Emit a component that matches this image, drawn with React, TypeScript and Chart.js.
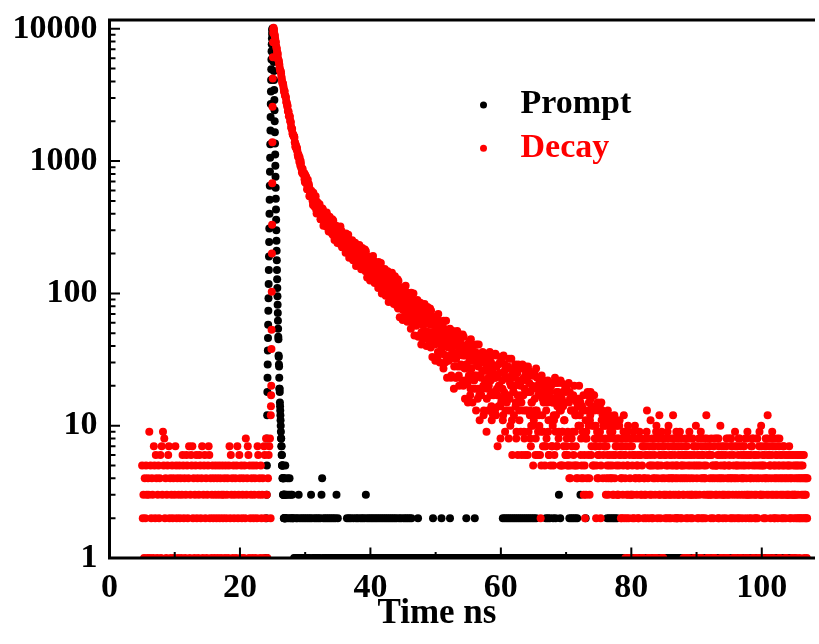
import { useEffect, useRef } from 'react';
import { Chart, registerables } from 'chart.js';

Chart.register(...registerables);

// ---------- labels, ticks ----------
const seriesLabels = ['Prompt', 'Decay'];
const seriesColors = ['#000000', '#ff0000'];
const xTitle = 'Time ns';
const xMin = 0;
const xMax = 108.16;
const yMin = 1;
const yMax = 11650;
const xMajorTicks = [0, 20, 40, 60, 80, 100];
const xMinorTicks = [10, 30, 50, 70, 90];
const yMajorTicks = [1, 10, 100, 1000, 10000];
const yMinorTicks = [
  2, 3, 4, 5, 6, 7, 8, 9,
  20, 30, 40, 50, 60, 70, 80, 90,
  200, 300, 400, 500, 600, 700, 800, 900,
  2000, 3000, 4000, 5000, 6000, 7000, 8000, 9000,
];

// ---------- Decay (red) : counts per time channel ----------
// pre-pulse background, channels 5.0 .. 24.7 ns, 0.1 ns apart
const decayPreStart = 5.0;
const decayPreStep = 0.1;
const decayPreCounts = [
  5, 2, 3, 1, 4, 2, 5, 3, 1, 4,
  3, 9, 1, 5, 2, 4, 3, 1, 7, 5,
  2, 6, 4, 1, 3, 5, 2, 4, 6, 1,
  7, 3, 9, 5, 8, 2, 4, 1, 3, 5,
  6, 7, 2, 4, 1, 3, 5, 2, 4, 1,
  3, 7, 5, 2, 4, 1, 3, 5, 2, 4,
  1, 3, 6, 5, 2, 4, 1, 3, 6, 5,
  2, 4, 7, 1, 3, 6, 5, 7, 2, 4,
  1, 3, 5, 6, 2, 4, 1, 3, 6, 5,
  2, 4, 7, 1, 3, 5, 6, 2, 4, 1,
  3, 5, 7, 6, 2, 4, 1, 3, 5, 2,
  4, 1, 3, 5, 2, 4, 1, 3, 5, 2,
  4, 1, 3, 5, 2, 3, 4, 1, 5, 2,
  3, 4, 1, 5, 7, 2, 6, 3, 4, 1,
  5, 2, 3, 4, 1, 5, 7, 2, 3, 6,
  4, 1, 5, 2, 3, 4, 1, 5, 2, 8,
  3, 4, 7, 6, 1, 5, 2, 3, 4, 1,
  5, 2, 3, 4, 1, 5, 2, 7, 6, 3,
  4, 1, 5, 2, 3, 4, 1, 7, 6, 2,
  8, 3, 1, 4, 6, 7, 8, 2,
];
// rising edge, 24.725 .. 25.175 ns, 0.025 ns apart
const decayRiseStart = 24.725;
const decayRiseStep = 0.025;
const decayRiseCounts = [
  12, 14, 17, 20, 38, 53, 103, 200, 330, 680,
  1390, 2570, 4200, 6100, 7900, 9300, 9900, 10200, 9900,
];
// decay and tail, channels 25.2, 25.3 .. 107.0 ns
const decayMainStart = 25.2;
const decayMainStep = 0.1;
const decayMainCounts = [
  9800, 8960, 8400, 7900, 7200, 6610, 6350, 5810,
  5520, 5030, 4800, 4620, 4210, 3890, 3820, 3550, 3410, 3140,
  3080, 2800, 2700, 2620, 2370, 2180, 2200, 2010, 1950, 1770,
  1750, 1590, 1560, 1540, 1390, 1290, 1320, 1220, 1190, 1080,
  1100, 990, 990, 1000, 896, 820, 875, 810, 800, 730,
  787, 685, 694, 612, 723, 619, 646, 554, 594, 535,
  538, 577, 466, 529, 511, 460, 543, 429, 483, 448,
  410, 453, 472, 401, 364, 432, 404, 430, 325, 391,
  382, 361, 322, 408, 328, 375, 293, 350, 365, 310,
  344, 284, 319, 355, 293, 253, 328, 290, 307, 262,
  319, 263, 279, 237, 320, 260, 286, 233, 267, 234,
  242, 276, 203, 254, 246, 216, 278, 203, 245, 224,
  200, 234, 252, 203, 179, 232, 213, 236, 161, 211,
  206, 194, 167, 232, 175, 211, 152, 197, 209, 169,
  196, 152, 180, 208, 162, 132, 190, 162, 176, 142,
  187, 146, 160, 128, 192, 147, 168, 128, 156, 131,
  138, 166, 110, 150, 144, 122, 170, 113, 146, 130,
  111, 139, 153, 116, 98, 139, 126, 143, 86, 126,
  122, 113, 93, 143, 99, 127, 83, 117, 127, 97,
  113, 80, 102, 124, 89, 66, 111, 90, 101, 76,
  109, 78, 88, 65, 114, 81, 97, 68, 88, 70,
  75, 95, 54, 84, 80, 64, 100, 58, 82, 72,
  57, 78, 89, 62, 48, 79, 69, 82, 41, 70,
  68, 61, 46, 83, 52, 73, 40, 65, 73, 51,
  66, 42, 58, 74, 49, 33, 65, 51, 59, 41,
  66, 43, 51, 33, 70, 45, 57, 35, 51, 39,
  42, 57, 27, 49, 47, 34, 62, 31, 49, 41,
  31, 46, 54, 34, 24, 48, 41, 50, 19, 41,
  40, 34, 23, 52, 28, 44, 20, 39, 45, 29,
  40, 22, 34, 47, 28, 16, 40, 29, 36, 21,
  41, 24, 31, 17, 45, 27, 35, 19, 31, 22,
  24, 36, 13, 31, 29, 19, 41, 17, 31, 24,
  17, 30, 36, 20, 13, 31, 26, 34, 9, 27,
  26, 23, 13, 36, 17, 30, 11, 26, 12, 18,
  28, 13, 23, 34, 19, 7, 29, 20, 25, 14,
  30, 16, 22, 11, 34, 18, 26, 13, 23, 15,
  17, 28, 8, 23, 21, 13, 32, 11, 24, 18,
  12, 23, 29, 15, 9, 25, 6, 27, 13, 21,
  20, 17, 6, 29, 13, 23, 8, 6, 25, 13,
  22, 6, 18, 26, 13, 8, 7, 15, 20, 10,
  24, 12, 16, 6, 27, 13, 20, 9, 17, 10,
  6, 2, 5, 17, 16, 9, 22, 7, 18, 7,
  8, 17, 22, 11, 6, 18, 5, 20, 7, 15,
  15, 12, 6, 23, 9, 18, 7, 15, 18, 9,
  16, 5, 13, 21, 9, 5, 18, 11, 15, 6,
  18, 8, 5, 6, 21, 4, 16, 5, 13, 7,
  9, 17, 5, 13, 12, 7, 4, 5, 14, 10,
  20, 12, 15, 8, 5, 13, 4, 3, 6, 2,
  11, 9, 4, 18, 6, 15, 3, 12, 16, 7,
  14, 5, 10, 17, 8, 7, 2, 8, 4, 6,
  13, 7, 9, 2, 15, 8, 12, 6, 10, 7,
  11, 3, 7, 5, 13, 4, 8, 6, 10, 9,
  4, 9, 6, 3, 12, 8, 7, 5, 10, 3,
  8, 5, 11, 6, 2, 4, 7, 3, 9, 2,
  6, 1, 8, 3, 5, 10, 2, 7, 4, 1,
  3, 7, 2, 9, 6, 1, 4, 8, 5, 1,
  5, 2, 8, 4, 6, 1, 3, 7, 1, 2,
  4, 7, 3, 8, 13, 6, 1, 2, 5, 1,
  6, 3, 8, 2, 5, 7, 4, 1, 9, 1,
  2, 5, 7, 12, 3, 6, 1, 4, 8, 1,
  7, 4, 2, 6, 3, 8, 5, 10, 2, 4,
  3, 6, 8, 4, 12, 5, 2, 7, 3, 9,
  5, 2, 7, 3, 6, 4, 8, 2, 5, 3,
  1, 6, 4, 8, 2, 7, 3, 5, 1, 9,
  4, 2, 6, 3, 8, 5, 1, 7, 1, 10,
  3, 7, 5, 2, 6, 1, 8, 4, 1, 6,
  2, 5, 8, 4, 7, 12, 3, 1, 6, 1,
  7, 3, 2, 6, 4, 1, 5, 1, 8, 3,
  5, 8, 4, 2, 7, 3, 6, 1, 4, 1,
  6, 3, 7, 5, 1, 2, 8, 4, 1, 5,
  3, 6, 2, 8, 4, 7, 1, 5, 1, 9,
  4, 1, 5, 2, 6, 3, 8, 1, 7, 6,
  2, 5, 4, 7, 1, 8, 6, 3, 9, 1,
  5, 3, 6, 4, 2, 7, 1, 8, 1, 3,
  6, 2, 4, 8, 1, 5, 7, 1, 3, 10,
  3, 5, 1, 2, 6, 4, 8, 7, 1, 12,
  4, 6, 1, 5, 8, 3, 9, 7, 1, 2,
  2, 7, 4, 6, 3, 5, 1, 8, 1, 4,
  6, 3, 5, 2, 7, 4, 1, 3, 1, 5,
  3, 5, 7, 2, 4, 6, 1, 3, 1, 2,
  4, 6, 3, 1, 5, 2, 4, 6, 1, 2,
  5, 3, 6, 4, 2, 1, 3, 4, 2, 1,
  4,
];
// in-between channels, 25.25, 25.35 .. 106.95 ns
const decayHalfStart = 25.25;
const decayHalfStep = 0.1;
const decayHalfCounts = [
  9330, 8850, 8060, 7420, 7040, 6580, 5920, 5700,
  5320, 4890, 4770, 4350, 4030, 3890, 3710, 3340, 3350, 3100,
  3000, 2780, 2580, 2390, 2370, 2190, 2150, 2000, 1820, 1750,
  1630, 1585, 1540, 1500, 1375, 1270, 1264, 1258, 1120, 1128,
  1056, 1065, 926, 954, 876, 873, 800, 794, 812, 694,
  689, 760, 668, 613, 665, 670, 543, 602, 553, 596,
  561, 498, 577, 493, 452, 492, 500, 401, 491, 440,
  475, 434, 399, 364, 435, 392, 439, 406, 349, 361,
  328, 353, 376, 393, 345, 310, 346, 380, 310, 350,
  325, 364, 276, 328, 289, 311, 271, 288, 322, 240,
  260, 317, 268, 243, 285, 297, 223, 268, 243, 276,
  260, 223, 284, 231, 208, 240, 250, 186, 252, 220,
  248, 222, 199, 178, 233, 203, 241, 219, 179, 190,
  168, 189, 208, 222, 189, 164, 193, 220, 168, 200,
  183, 215, 147, 189, 159, 177, 147, 161, 189, 125,
  143, 188, 151, 132, 166, 176, 120, 156, 138, 164,
  153, 125, 173, 133, 115, 141, 149, 100, 152, 127,
  149, 130, 114, 96, 139, 118, 147, 130, 101, 110,
  92, 109, 124, 135, 109, 91, 114, 135, 96, 120,
  103, 128, 77, 109, 87, 100, 78, 89, 111, 63,
  75, 109, 83, 69, 95, 102, 61, 88, 74, 94,
  86, 65, 101, 71, 59, 78, 85, 48, 88, 69,
  86, 71, 59, 47, 79, 63, 85, 73, 51, 58,
  45, 58, 69, 77, 60, 46, 64, 79, 50, 69,
  59, 77, 39, 64, 47, 58, 42, 51, 66, 31,
  42, 67, 46, 36, 55, 62, 30, 51, 42, 57,
  51, 35, 62, 40, 30, 45, 51, 23, 53, 39,
  52, 41, 32, 23, 48, 36, 52, 44, 28, 32,
  23, 32, 41, 48, 34, 24, 37, 49, 28, 41,
  35, 49, 20, 39, 27, 34, 22, 29, 41, 15,
  23, 43, 27, 19, 35, 39, 15, 31, 24, 35,
  31, 19, 41, 24, 16, 28, 32, 11, 34, 23,
  34, 26, 19, 12, 31, 22, 35, 29, 16, 19,
  13, 20, 27, 33, 22, 14, 24, 34, 17, 28,
  23, 35, 12, 28, 17, 24, 14, 20, 30, 8,
  15, 32, 19, 12, 25, 29, 9, 23, 17, 27,
  23, 13, 32, 16, 10, 20, 24, 6, 26, 18,
  27, 20, 14, 8, 25, 17, 29, 22, 11, 15,
  9, 15, 22, 27, 17, 9, 19, 28, 13, 23,
  18, 28, 9, 21, 12, 18, 10, 15, 24, 5,
  11, 25, 13, 8, 19, 23, 6, 17, 12, 21,
  18, 9, 24, 12, 7, 15, 19, 5, 20, 13,
  21, 15, 9, 6, 18, 11, 21, 16, 7, 10,
  5, 11, 16, 21, 12, 7, 14, 21, 8, 17,
  13, 22, 5, 16, 9, 14, 7, 11, 19, 6,
  7, 20, 9, 5, 15, 18, 4, 13, 8, 16,
  13, 6, 20, 9, 5, 12, 15, 4, 16, 10,
  16, 10, 6, 4, 14, 9, 17, 13, 5, 8,
  3, 8, 13, 17, 10, 4, 11, 18, 6, 14,
  10, 17, 5, 13, 7, 10, 5, 9, 15, 4,
  6, 14, 8, 5, 11, 13, 4, 10, 7, 12,
  8, 4, 10, 6, 3, 12, 5, 9, 4, 11,
  5, 3, 8, 11, 4, 6, 10, 7, 3, 8,
  3, 10, 6, 7, 4, 2, 8, 5, 12, 6,
  4, 7, 2, 9, 5, 3, 1, 6, 8, 3,
  8, 5, 3, 6, 2, 10, 4, 1, 3, 6,
  2, 4, 9, 6, 3, 8, 5, 1, 7, 4,
  3, 6, 2, 9, 8, 4, 1, 7, 3, 11,
  5, 2, 7, 4, 1, 6, 3, 8, 10, 5,
  4, 8, 3, 6, 2, 5, 9, 7, 1, 3,
  6, 3, 8, 5, 2, 9, 4, 7, 3, 6,
  2, 5, 4, 7, 3, 8, 6, 4, 2, 5,
  4, 8, 3, 6, 9, 2, 5, 7, 4, 6,
  3, 5, 7, 1, 6, 4, 2, 8, 6, 3,
  5, 8, 3, 2, 4, 7, 6, 3, 5, 1,
  4, 2, 6, 8, 3, 5, 9, 2, 7, 4,
  6, 3, 4, 2, 5, 8, 1, 6, 3, 7,
  4, 6, 8, 3, 5, 2, 7, 4, 1, 5,
  3, 5, 6, 8, 2, 4, 10, 5, 7, 3,
  2, 4, 5, 3, 6, 7, 1, 3, 8, 4,
  5, 8, 4, 7, 2, 3, 6, 4, 2, 7,
  3, 5, 7, 4, 8, 2, 5, 1, 4, 3,
  4, 7, 6, 3, 5, 2, 4, 8, 3, 6,
  2, 6, 4, 7, 3, 8, 5, 4, 6, 2,
  5, 3, 8, 2, 6, 4, 9, 3, 5, 7,
  4, 6, 3, 5, 7, 2, 4, 3, 8, 6,
  3, 7, 5, 2, 4, 6, 8, 3, 5, 4,
  5, 3, 6, 8, 2, 4, 7, 5, 3, 6,
  2, 4, 7, 3, 5, 6, 2, 4, 6, 3,
  4, 6, 3, 5, 2, 4, 3, 6, 5, 3,
  3, 5, 2, 4, 6, 3, 5, 2, 4, 6,
  4, 2, 5, 3, 6, 4, 2, 3, 4, 2,
];

// ---------- Prompt (black) : counts per time channel ----------
// pulse, 24.0 .. 27.0 ns, 0.025 ns apart
const promptPeakStart = 24.0;
const promptPeakStep = 0.025;
const promptPeakCounts = [
  1, 0, 2, 1, 3, 5, 8, 12, 18, 23,
  29, 37, 46, 58, 74, 92, 118, 150, 190, 245,
  310, 400, 510, 650, 830, 1060, 1340, 1700, 2150, 2700,
  3350, 4100, 4950, 5850, 6750, 7650, 8450, 9150, 9650, 9950,
  10050, 9900, 9500, 8900, 8150, 7300, 6450, 5600, 4800, 4100,
  3450, 2900, 2420, 2000, 1650, 1360, 1120, 920, 760, 630,
  520, 430, 360, 300, 250, 210, 178, 150, 128, 110,
  95, 82, 71, 62, 54, 47, 45, 34, 33, 29,
  28, 23, 19, 19, 18, 15, 14, 13, 12, 11,
  10, 9, 8, 8, 7, 7, 6, 6, 5, 5,
  5, 4, 4, 5, 3, 4, 3, 4, 3, 2,
  3, 2, 3, 2, 4, 2, 3, 2, 5, 2,
  3,
];
// after the pulse, 27.1 .. 107.0 ns, 0.1 ns apart
const promptTailStart = 27.1;
const promptTailStep = 0.1;
const promptTailCounts = [
  2, 3, 4, 2, 3, 4, 2, 3, 2,
  3, 2, 2, 1, 0, 1, 2, 1, 2, 1,
  3, 1, 2, 1, 0, 2, 1, 1, 2, 0,
  1, 2, 1, 0, 2, 1, 1, 2, 0, 3,
  2, 1, 0, 1, 2, 1, 0, 2, 1, 1,
  2, 1, 1, 2, 0, 3, 4, 1, 2, 1,
  0, 2, 1, 1, 2, 0, 1, 2, 1, 0,
  2, 1, 1, 2, 0, 1, 2, 1, 3, 1,
  2, 1, 0, 1, 1, 0, 1, 1, 0, 1,
  1, 0, 1, 1, 2, 1, 0, 2, 1, 1,
  2, 1, 0, 1, 2, 1, 1, 0, 2, 1,
  1, 2, 1, 0, 1, 2, 1, 1, 2, 0,
  1, 2, 1, 3, 1, 2, 0, 1, 2, 1,
  1, 2, 0, 1, 2, 1, 1, 2, 0, 1,
  2, 1, 1, 2, 0, 1, 2, 1, 1, 2,
  1, 0, 2, 1, 1, 2, 1, 0, 2, 1,
  1, 2, 1, 0, 2, 1, 1, 2, 0, 1,
  2, 1, 0, 1, 2, 1, 1, 2, 1, 0,
  1, 2, 1, 1, 2, 0, 1, 2, 1, 1,
  2, 1, 0, 2, 1, 1, 0, 1, 1, 0,
  1, 1, 0, 2, 1, 0, 1, 1, 0, 1,
  1, 0, 1, 1, 0, 1, 1, 0, 1, 1,
  0, 1, 1, 0, 1, 1, 2, 0, 1, 1,
  1, 0, 1, 1, 0, 1, 1, 0, 1, 2,
  1, 1, 0, 1, 1, 0, 1, 1, 0, 1,
  1, 0, 2, 1, 1, 0, 1, 1, 0, 1,
  1, 1, 0, 1, 0, 1, 1, 0, 1, 1,
  0, 1, 1, 0, 1, 1, 0, 2, 1, 0,
  1, 1, 0, 1, 1, 0, 1, 1, 0, 1,
  2, 1, 0, 1, 1, 0, 1, 1, 0, 1,
  1, 0, 1, 1, 0, 1, 1, 0, 1, 1,
  0, 1, 1, 0, 1, 1, 0, 1, 1, 0,
  1, 1, 0, 1, 1, 0, 1, 1, 0, 1,
  1, 0, 1, 2, 1, 1, 2, 0, 1, 2,
  1, 1, 2, 0, 1, 2, 1, 1, 2, 0,
  1, 2, 1, 0, 2, 1, 1, 2, 1, 0,
  2, 1, 1, 2, 0, 1, 2, 1, 0, 2,
  1, 1, 2, 1, 0, 2, 1, 1, 2, 0,
  1, 2, 1, 0, 2, 1, 1, 0, 1, 1,
  0, 1, 1, 0, 1, 1, 0, 1, 1, 2,
  1, 1, 2, 1, 0, 2, 1, 1, 1, 0,
  2, 1, 0, 1, 2, 1, 1, 0, 1, 3,
  1, 2, 1, 0, 1, 1, 0, 1, 1, 0,
  1, 1, 0, 1, 1, 2, 1, 0, 2, 1,
  1, 2, 0, 1, 2, 1, 1, 2, 0, 1,
  1, 0, 3, 1, 1, 0, 1, 1, 0, 1,
  2, 1, 0, 1, 1, 0, 1, 1, 0, 1,
  1, 0, 1, 1, 0, 1, 1, 0, 1, 1,
  0, 1, 1, 0, 1, 1, 0, 1, 1, 0,
  1, 1, 0, 2, 1, 1, 2, 0, 1, 2,
  1, 1, 2, 0, 1, 2, 1, 1, 2, 0,
  1, 0, 1, 1, 0, 1, 1, 0, 1, 1,
  1, 0, 1, 1, 0, 1, 1, 0, 1, 1,
  0, 1, 1, 0, 1, 1, 0, 1, 1, 0,
  1, 1, 0, 1, 1, 0, 1, 1, 0, 1,
  1, 0, 1, 1, 0, 1, 1, 0, 1, 1,
  0, 1, 1, 0, 1, 1, 0, 1, 1, 0,
  1, 1, 0, 1, 1, 0, 1, 1, 0, 1,
  1, 0, 1, 1, 0, 1, 1, 0, 1, 1,
  0, 1, 1, 0, 1, 1, 0, 1, 1, 0,
  2, 1, 0, 1, 1, 0, 1, 1, 0, 1,
  1, 0, 1, 1, 0, 1, 1, 0, 1, 1,
  0, 1, 1, 0, 1, 1, 0, 1, 1, 0,
  1, 1, 0, 1, 1, 0, 1, 1, 0, 1,
  1, 0, 1, 1, 0, 1, 1, 0, 1, 1,
  0, 1, 1, 0, 1, 1, 0, 1, 1, 0,
  1, 1, 0, 1, 1, 0, 1, 1, 0, 1,
  1, 0, 1, 1, 0, 1, 1, 0, 1, 1,
  0, 1, 1, 0, 1, 1, 0, 1, 1, 0,
  1, 1, 0, 1, 1, 0, 1, 1, 0, 1,
  1, 0, 1, 1, 0, 1, 1, 0, 1, 1,
  0, 1, 1, 0, 1, 1, 0, 1, 1, 0,
  1, 1, 0, 1, 1, 0, 1, 1, 0, 1,
  1, 0, 1, 1, 0, 1, 1, 0, 1, 1,
  0, 1, 1, 0, 1, 1, 0, 1, 1, 0,
  1, 1, 0, 1, 1, 0, 1, 1, 0, 1,
  1, 0, 1, 1, 0, 1, 1, 0, 1, 1,
  0, 1, 1, 0, 1, 1, 0, 1, 1, 0,
  1,
];

const FONT = "'Liberation Serif', 'Times New Roman', serif";
const POINT_R = 4;

type Pt = { x: number; y: number };

function channelPoints(start: number, step: number, counts: number[]): Pt[] {
  const pts: Pt[] = [];
  counts.forEach((c, i) => {
    if (c > 0) pts.push({ x: Math.round((start + i * step) * 1000) / 1000, y: c });
  });
  return pts;
}

const framePlugin = {
  id: 'frameAndDecor',
  afterDraw(chart: any) {
    const { ctx, chartArea: a, scales } = chart;
    const xs = scales.x;
    const ys = scales.y;
    ctx.save();
    ctx.strokeStyle = '#000';
    ctx.lineCap = 'butt';
    // inward ticks
    ctx.lineWidth = 2;
    ctx.beginPath();
    yMajorTicks.forEach((v) => {
      const p = ys.getPixelForValue(v);
      ctx.moveTo(a.left, p);
      ctx.lineTo(a.left + 10.5, p);
    });
    yMinorTicks.forEach((v) => {
      const p = ys.getPixelForValue(v);
      ctx.moveTo(a.left, p);
      ctx.lineTo(a.left + 6, p);
    });
    xMajorTicks.forEach((v) => {
      const p = xs.getPixelForValue(v);
      ctx.moveTo(p, a.bottom);
      ctx.lineTo(p, a.bottom - 10.5);
    });
    xMinorTicks.forEach((v) => {
      const p = xs.getPixelForValue(v);
      ctx.moveTo(p, a.bottom);
      ctx.lineTo(p, a.bottom - 6);
    });
    ctx.stroke();
    // frame
    ctx.lineWidth = 3;
    ctx.lineJoin = 'miter';
    ctx.beginPath();
    ctx.moveTo(a.right, a.top);
    ctx.lineTo(a.left, a.top);
    ctx.lineTo(a.left, a.bottom);
    ctx.lineTo(a.right, a.bottom);
    ctx.stroke();

    // legend
    const ds = chart.data.datasets;
    ctx.font = `bold 34px ${FONT}`;
    ctx.textAlign = 'left';
    ctx.textBaseline = 'alphabetic';
    ds.forEach((d: any, i: number) => {
      const cy = a.top + 85 + i * 43.3;
      ctx.fillStyle = d.backgroundColor;
      ctx.beginPath();
      ctx.arc(a.left + 374, cy, 3.5, 0, Math.PI * 2);
      ctx.fill();
      ctx.fillText(d.label, a.left + 411, cy + 8.3);
    });

    // axis title
    ctx.fillStyle = '#000';
    ctx.font = `bold 35px ${FONT}`;
    ctx.textAlign = 'center';
    ctx.fillText(xTitle, xs.getPixelForValue(50.2), 623);
    ctx.restore();
  },
};

export default function App() {
  const ref = useRef<HTMLCanvasElement | null>(null);

  useEffect(() => {
    document.body.style.margin = '0';
    const canvas = ref.current;
    if (!canvas) return;

    const promptData = [
      ...channelPoints(promptPeakStart, promptPeakStep, promptPeakCounts),
      ...channelPoints(promptTailStart, promptTailStep, promptTailCounts),
    ];
    const decayData = [
      ...channelPoints(decayPreStart, decayPreStep, decayPreCounts),
      ...channelPoints(decayRiseStart, decayRiseStep, decayRiseCounts),
      ...channelPoints(decayMainStart, decayMainStep, decayMainCounts),
      ...channelPoints(decayHalfStart, decayHalfStep, decayHalfCounts),
    ];

    const chart = new Chart(canvas, {
      type: 'scatter',
      data: {
        datasets: [
          {
            label: seriesLabels[0],
            data: promptData,
            backgroundColor: seriesColors[0],
            borderWidth: 0,
            pointRadius: POINT_R,
            pointHoverRadius: POINT_R,
            order: 1,
            clip: 0,
          },
          {
            label: seriesLabels[1],
            data: decayData,
            backgroundColor: seriesColors[1],
            borderWidth: 0,
            pointRadius: POINT_R,
            pointHoverRadius: POINT_R,
            order: 0,
            clip: 0,
          },
        ],
      },
      options: {
        animation: false,
        responsive: false,
        devicePixelRatio: 1,
        events: [],
        layout: { padding: { top: 20, left: 0, right: 0, bottom: 0 } },
        plugins: {
          legend: { display: false },
          tooltip: { enabled: false },
        },
        scales: {
          x: {
            type: 'linear',
            min: xMin,
            max: xMax,
            grid: { display: false, drawTicks: false },
            border: { display: false },
            ticks: {
              padding: 10,
              maxRotation: 0,
              autoSkip: false,
              color: '#000',
              font: { family: FONT, size: 34, weight: 'bold' },
              callback: (v: any) => String(v),
            },
            afterBuildTicks: (s: any) => {
              s.ticks = xMajorTicks.map((v) => ({ value: v }));
            },
            afterFit: (s: any) => {
              s.height = 86;
              s.paddingLeft = 0;
              s.paddingRight = 0;
            },
          },
          y: {
            type: 'logarithmic',
            min: yMin,
            max: yMax,
            grid: { display: false, drawTicks: false },
            border: { display: false },
            ticks: {
              padding: 12,
              autoSkip: false,
              color: '#000',
              font: { family: FONT, size: 34, weight: 'bold' },
              callback: (v: any) => String(v),
            },
            afterBuildTicks: (s: any) => {
              s.ticks = yMajorTicks.map((v) => ({ value: v }));
            },
            afterFit: (s: any) => {
              s.width = 109.5;
              s.paddingTop = 0;
              s.paddingBottom = 0;
            },
          },
        },
      },
      plugins: [framePlugin],
    } as any);

    return () => chart.destroy();
  }, []);

  return (
    <div style={{ width: 819, height: 644, overflow: 'hidden' }}>
      <canvas ref={ref} width={819} height={644} />
    </div>
  );
}
